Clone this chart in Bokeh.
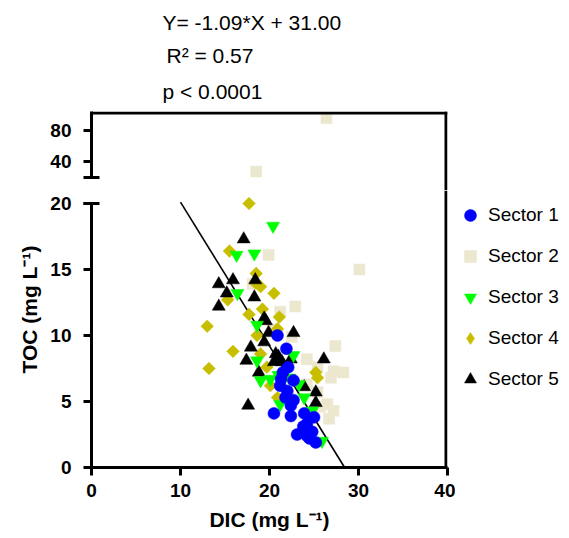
import numpy as np
from bokeh.plotting import figure
from bokeh.layouts import column, row
from bokeh.models import Range1d, LinearAxis, FixedTicker, Legend, LegendItem, Title, Span
from bokeh.embed import file_html
from bokeh.resources import INLINE

# ---------------- data ----------------
sector_names = ["Sector 1", "Sector 2", "Sector 3", "Sector 4", "Sector 5"]

s1_x = [20.9, 21.9, 22.1, 22.7, 21.3, 21.2, 21.8, 22.4, 20.5, 22.4, 23.9, 25.0, 24.2, 23.1, 24.2, 25.2, 24.8, 23.8, 22.0, 22.7, 21.5, 24.5]
s1_y = [10.0, 9.0, 7.6, 6.6, 6.7, 6.2, 5.3, 4.7, 4.1, 3.9, 4.1, 3.8, 3.3, 2.5, 2.4, 1.9, 2.7, 3.1, 5.8, 5.1, 7.2, 2.2]

s2_x = [26.4, 18.5, 30.1, 19.9, 22.9, 18.1, 21.2, 27.4, 24.2, 28.3, 27.2, 26.9, 25.4, 26.5, 27.2, 26.7, 25.7, 24.2, 22.5, 25.4, 20.3]
s2_y = [96.0, 27.0, 15.0, 16.1, 12.2, 13.9, 11.8, 9.2, 8.2, 7.2, 7.3, 6.8, 7.6, 4.8, 4.3, 3.7, 4.6, 6.3, 9.9, 5.7, 10.5]

s3_x = [20.4, 16.3, 18.3, 16.4, 18.6, 22.7, 18.6, 19.0, 20.1, 23.3, 23.9, 21.2, 24.8, 25.9, 22.2, 21.0]
s3_y = [18.3, 16.1, 16.2, 13.2, 10.8, 8.5, 8.1, 6.6, 6.7, 6.3, 5.3, 4.8, 4.3, 2.0, 6.8, 7.0]

s4_x = [17.7, 15.5, 18.5, 19.0, 18.4, 20.5, 15.3, 17.7, 21.1, 13.0, 13.2, 15.9, 18.6, 19.0, 19.7, 20.9, 25.2, 25.4, 20.1, 20.9, 19.2]
s4_y = [20.0, 16.4, 14.7, 13.7, 14.0, 13.2, 12.7, 11.6, 11.4, 10.7, 7.5, 8.8, 10.0, 8.6, 7.6, 10.5, 7.2, 6.8, 6.2, 5.3, 12.0]

s5_x = [17.1, 14.3, 15.9, 18.3, 15.2, 14.3, 19.4, 18.4, 19.6, 19.9, 22.7, 17.9, 19.4, 17.4, 20.7, 20.5, 21.4, 22.4, 26.1, 18.8, 23.9, 25.2, 25.2, 17.6, 21.0]
s5_y = [17.3, 13.9, 14.2, 12.9, 13.2, 12.2, 11.3, 14.2, 11.1, 10.2, 10.2, 9.1, 9.5, 8.1, 8.6, 8.0, 8.0, 8.2, 8.2, 7.2, 6.1, 5.7, 4.9, 4.7, 8.4]

fit_slope = -1.09
fit_intercept = 31.00
fit_x_start = 10.0
fit_text = ["Y= -1.09*X + 31.00", "R\u00b2 = 0.57", "p < 0.0001"]

x_ticks = [0, 10, 20, 30, 40]
y_ticks_low = [0, 5, 10, 15, 20]
y_ticks_high = [40, 80]
y_break = 20.0
y_high_top = 104.5
x_label = "DIC (mg L\u207b\u00b9)"
y_label = "TOC (mg L\u207b\u00b9)"

# ---------------- styles ----------------
FONT = "Liberation Sans"
styles = [
    dict(marker="circle", color="#0000FF", size=12, angle=0.0, legend_marker="circle"),
    dict(marker="square", color="#ECE7CF", size=11, angle=0.0, legend_marker="square"),
    dict(marker="inverted_triangle", color="#00FF00", size=13, angle=0.0, legend_marker="inverted_triangle"),
    dict(marker="square", color="#C8BE00", size=9, angle=np.pi / 4, legend_marker="diamond"),
    dict(marker="triangle", color="#000000", size=13, angle=0.0, legend_marker="triangle"),
]
series = [(s1_x, s1_y), (s2_x, s2_y), (s3_x, s3_y), (s4_x, s4_y), (s5_x, s5_y)]
draw_order = [1, 3, 4, 2, 0]

FW = 356
LEFT = 91
RIGHT = 8
TOP = 111
BOTTOM = 71
H_HIGH = 79
H_LOW = 277
TOTAL_W = 569
BORDER_W = 3
x_range = Range1d(0, 40)
y_low_top = 20.985
y_high_bottom = 2.6


def style_axis(ax, standoff):
    ax.axis_line_width = BORDER_W
    ax.major_tick_line_width = BORDER_W
    ax.minor_tick_line_width = BORDER_W
    ax.major_tick_out = 8
    ax.major_tick_in = 0
    ax.major_label_text_font = FONT
    ax.major_label_text_font_style = "bold"
    ax.major_label_text_font_size = "19px"
    ax.major_label_text_color = "black"
    ax.major_label_standoff = standoff


# half a border line expressed in data units, so the frame lines sit fully inside the frame
half_x = (BORDER_W / 2) * (x_range.end - x_range.start) / FW
half_y_high = (BORDER_W / 2) * (y_high_top - y_high_bottom) / H_HIGH

# ---------------- upper (broken) segment ----------------
top = figure(frame_width=FW, frame_height=H_HIGH, x_range=x_range,
             y_range=Range1d(y_high_bottom, y_high_top),
             output_backend="svg", toolbar_location=None,
             x_axis_location=None, y_axis_location=None,
             min_border_top=TOP, min_border_bottom=0,
             min_border_left=LEFT, min_border_right=RIGHT)
top.grid.visible = False
top.outline_line_color = None

ax = LinearAxis(ticker=FixedTicker(ticks=y_ticks_high, minor_ticks=[y_break]),
                bounds=(y_break, y_high_top))
style_axis(ax, 12)
ax.minor_tick_in = 8
ax.minor_tick_out = 8
top.add_layout(ax, "left")
top.add_layout(Span(location=y_high_top - half_y_high, dimension="width",
                    line_color="black", line_width=BORDER_W))
top.add_layout(Span(location=x_range.end - half_x, dimension="height",
                    line_color="black", line_width=BORDER_W))

# regression statistics as stacked titles (closest to frame first)
for txt, off, so in zip(fit_text[::-1], [71, 75, 71], [17, 6, 9]):
    top.add_layout(Title(text=txt, align="left", offset=off, standoff=so,
                         text_font=FONT, text_font_size="21px",
                         text_font_style="normal", text_color="black"), "above")

# ---------------- lower segment ----------------
low = figure(frame_width=FW, frame_height=H_LOW, x_range=x_range,
             y_range=Range1d(0, y_low_top),
             output_backend="svg", toolbar_location=None,
             x_axis_location=None, y_axis_location=None,
             min_border_top=0, min_border_bottom=BOTTOM,
             min_border_left=LEFT, min_border_right=RIGHT)
low.grid.visible = False
low.outline_line_color = None

ly = LinearAxis(ticker=FixedTicker(ticks=y_ticks_low, minor_ticks=[y_break]),
                bounds=(0, y_break))
style_axis(ly, 12)
ly.minor_tick_in = 8
ly.minor_tick_out = 8
low.add_layout(ly, "left")

lx = LinearAxis(ticker=FixedTicker(ticks=x_ticks), axis_label=x_label)
style_axis(lx, 8)
lx.minor_tick_line_color = None
lx.axis_label_text_font = FONT
lx.axis_label_text_font_style = "bold"
lx.axis_label_text_font_size = "21px"
lx.axis_label_text_color = "black"
lx.axis_label_standoff = 8
low.add_layout(lx, "below")
low.add_layout(Span(location=x_range.end - half_x, dimension="height",
                    line_color="black", line_width=BORDER_W))

low.add_layout(Title(text=y_label, align="left", offset=94, standoff=13,
                     text_font=FONT, text_font_size="21px", text_font_style="bold",
                     text_color="black"), "left")

# regression line
fit_x_end = -fit_intercept / fit_slope
fx = np.array([fit_x_start, fit_x_end])
low.line(fx, fit_slope * fx + fit_intercept, line_color="black", line_width=1.6)

# points
for i in draw_order:
    xs, ys = np.array(series[i][0]), np.array(series[i][1])
    st = styles[i]
    hi = ys > y_break
    kw = dict(marker=st["marker"], size=st["size"], angle=st["angle"],
              fill_color=st["color"], line_color=st["color"], line_width=0.5)
    if hi.any():
        top.scatter(xs[hi], ys[hi], **kw)
    low.scatter(xs[~hi], ys[~hi], **kw)

# ---------------- right strip: legend ----------------
LEG_W = TOTAL_W - (LEFT + FW + RIGHT)
leg = figure(width=LEG_W, height=TOP + H_HIGH + H_LOW + BOTTOM,
             x_range=Range1d(0, 1), y_range=Range1d(0, 1),
             output_backend="svg", toolbar_location=None,
             x_axis_location=None, y_axis_location=None,
             min_border_top=TOP, min_border_bottom=BOTTOM,
             min_border_left=0, min_border_right=0)
leg.grid.visible = False
leg.outline_line_color = None

items = []
for i in range(5):
    st = styles[i]
    r = leg.scatter(series[i][0], series[i][1], marker=st["legend_marker"], size=st["size"],
                    fill_color=st["color"], line_color=st["color"],
                    line_width=0.5, visible=False)
    items.append(LegendItem(label=sector_names[i], renderers=[r]))

legend = Legend(items=items, location=(0, 73))
legend.border_line_color = None
legend.background_fill_alpha = 0
legend.inactive_fill_alpha = 0
legend.label_text_font = FONT
legend.label_text_font_size = "19px"
legend.label_text_color = "black"
legend.glyph_width = 30
legend.glyph_height = 30
legend.label_height = 30
legend.spacing = 11
legend.padding = 0
legend.margin = 0
legend.label_standoff = 3
leg.add_layout(legend, "center")

layout = row(column(top, low, spacing=0), leg, spacing=0)
open("out.html", "w").write(file_html(layout, INLINE))
